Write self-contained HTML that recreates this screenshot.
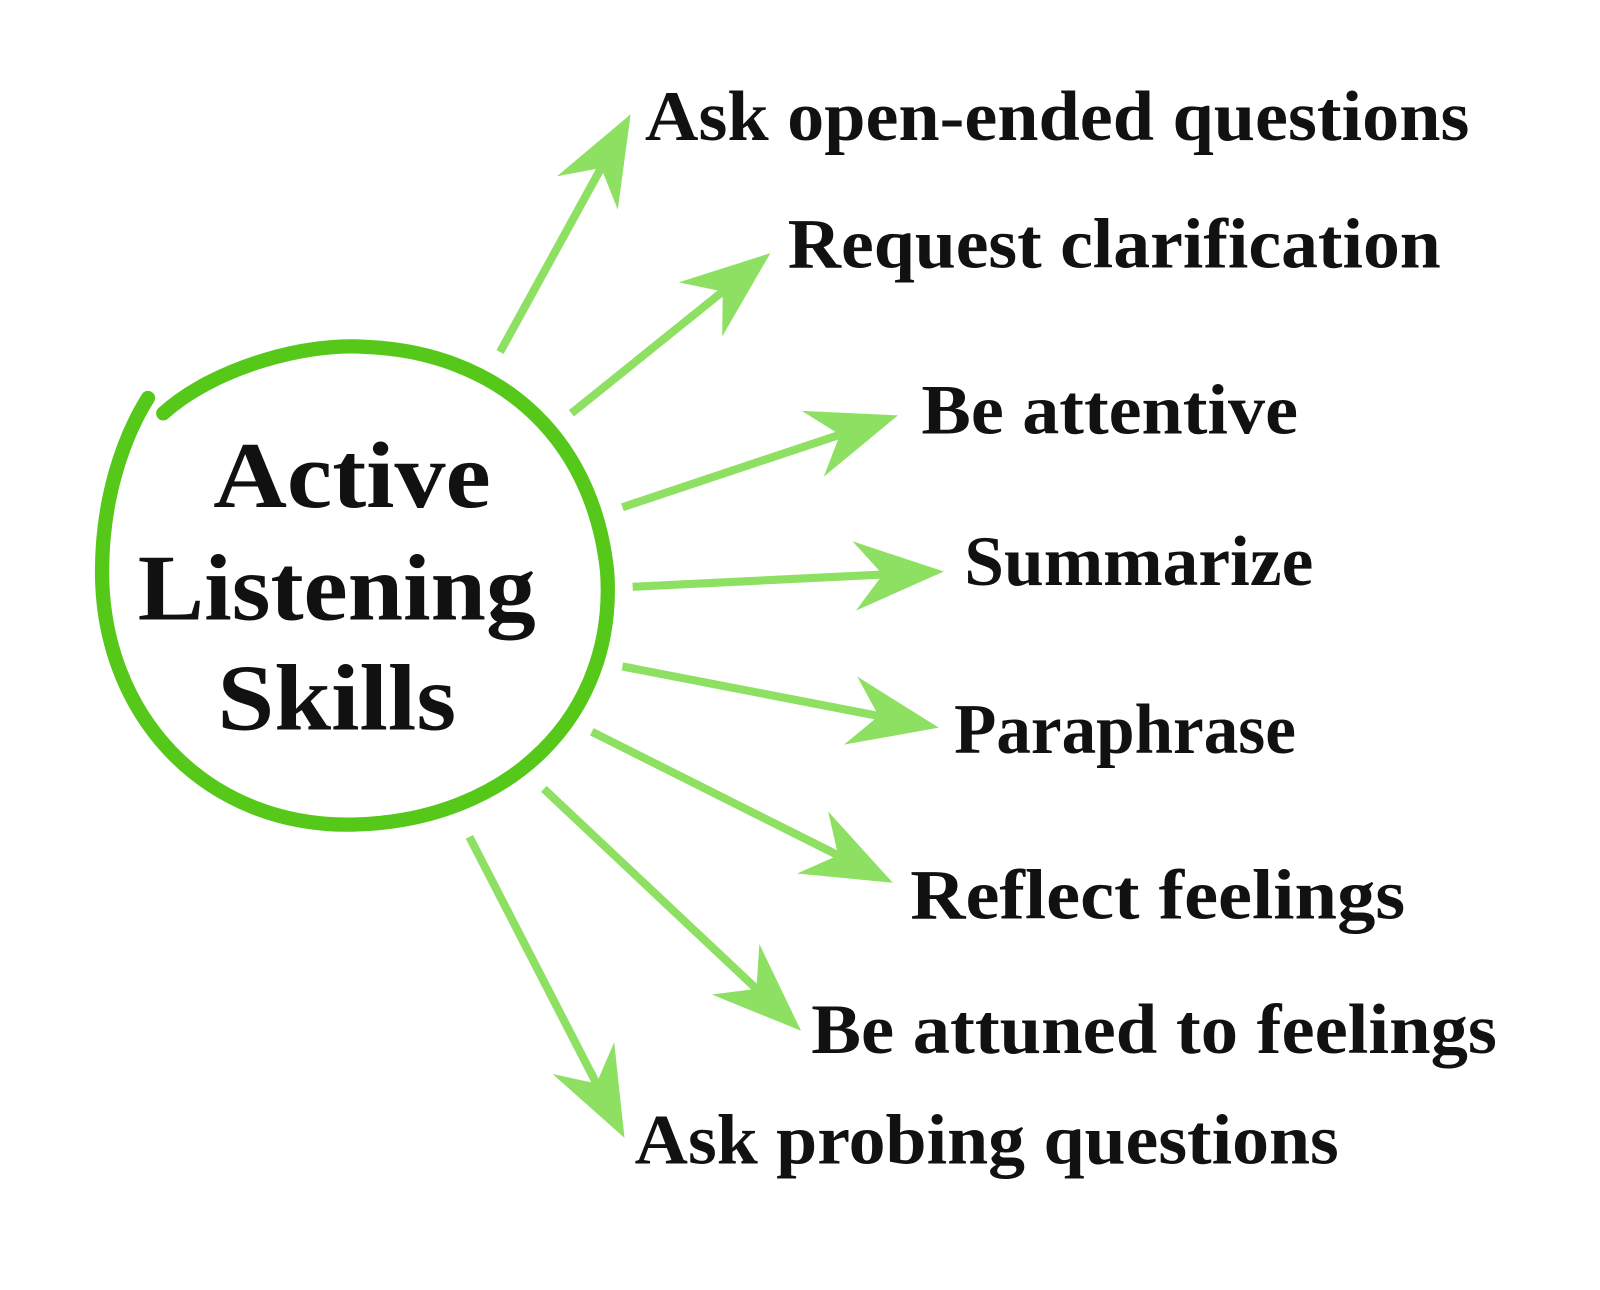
<!DOCTYPE html>
<html><head><meta charset="utf-8"><style>
html,body{margin:0;padding:0;background:#fff;width:1600px;height:1290px;overflow:hidden}
svg{display:block}
text{font-family:"Liberation Serif",serif;font-weight:bold;fill:#111}
</style></head><body>
<svg id="s" width="1600" height="1290" viewBox="0 0 1568 1264" preserveAspectRatio="none" xmlns="http://www.w3.org/2000/svg">
<rect width="1568" height="1264" fill="#fff"/>
<path d="M160 405 C 210 360, 300 335, 360 340 C 480 345, 580 420, 595 560 C 605 700, 500 805, 345 808 C 200 810, 100 700, 100 560 C 100 490, 120 430, 145 390" fill="none" stroke="#55c81a" stroke-width="14" stroke-linecap="round"/>
<g id="arrows"></g>
<text x="345" y="497" font-size="92" text-anchor="middle" textLength="272" lengthAdjust="spacingAndGlyphs">Active</text>
<text x="330" y="607" font-size="92" text-anchor="middle" textLength="390" lengthAdjust="spacingAndGlyphs">Listening</text>
<text x="330" y="715" font-size="92" text-anchor="middle" textLength="234" lengthAdjust="spacingAndGlyphs">Skills</text>
<text x="632" y="137" font-size="70" textLength="808" lengthAdjust="spacingAndGlyphs">Ask open-ended questions</text>
<text x="772" y="262" font-size="70" textLength="640" lengthAdjust="spacingAndGlyphs">Request clarification</text>
<text x="903" y="425" font-size="70" textLength="369" lengthAdjust="spacingAndGlyphs">Be attentive</text>
<text x="945" y="573" font-size="70" textLength="342" lengthAdjust="spacingAndGlyphs">Summarize</text>
<text x="935" y="738" font-size="70" textLength="335" lengthAdjust="spacingAndGlyphs">Paraphrase</text>
<text x="892" y="900" font-size="70" textLength="485" lengthAdjust="spacingAndGlyphs">Reflect feelings</text>
<text x="795" y="1032" font-size="70" textLength="672" lengthAdjust="spacingAndGlyphs">Be attuned to feelings</text>
<text x="622" y="1140" font-size="70" textLength="690" lengthAdjust="spacingAndGlyphs">Ask probing questions</text>
</svg>
<script>
var A=[[490,345,618,112],[560,405,755,248],[610,497,880,407],[620,575,925,560],[610,653,920,713],[580,717,875,865],[533,773,785,1010],[460,820,612,1115]];
var g=document.getElementById('arrows'),h='';
A.forEach(function(a){
 var dx=a[2]-a[0],dy=a[3]-a[1],l=Math.hypot(dx,dy),ux=dx/l,uy=dy/l,px=-uy,py=ux;
 var L=88,W=34,N=60;
 var bx=a[2]-ux*L,by=a[3]-uy*L,nx=a[2]-ux*N,ny=a[3]-uy*N;
 h+='<line x1="'+a[0]+'" y1="'+a[1]+'" x2="'+nx+'" y2="'+ny+'" stroke="#8ee063" stroke-width="8"/>';
 h+='<polygon fill="#8ee063" points="'+a[2]+','+a[3]+' '+(bx+px*W)+','+(by+py*W)+' '+nx+','+ny+' '+(bx-px*W)+','+(by-py*W)+'"/>';
});
g.innerHTML=h;
</script>
</body></html>
